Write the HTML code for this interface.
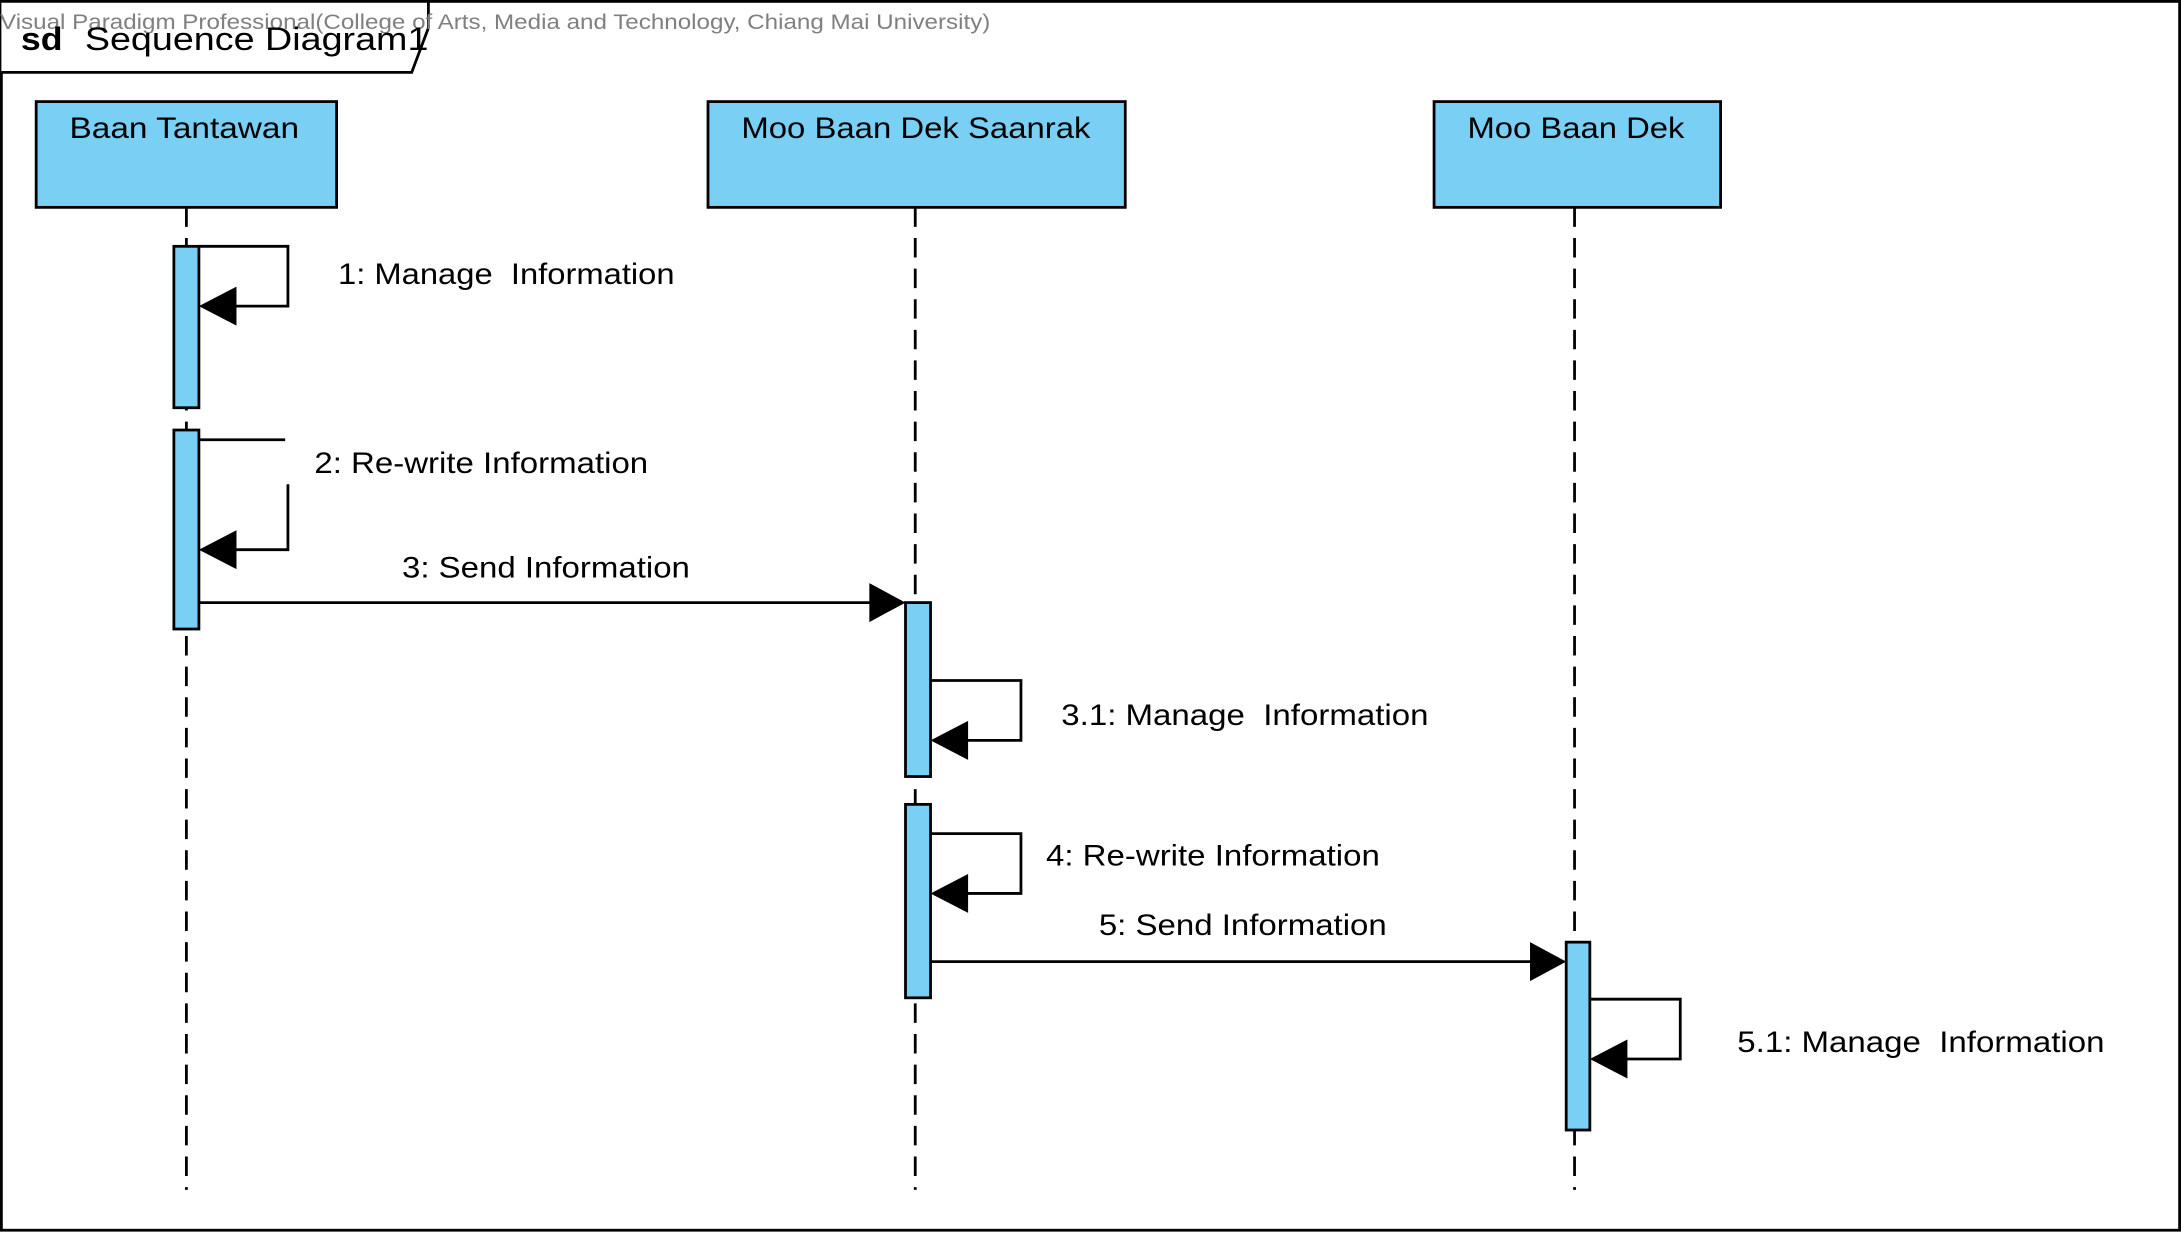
<!DOCTYPE html>
<html><head><meta charset="utf-8"><style>
html,body{margin:0;padding:0;background:#fff;}
svg{display:block;}
text{font-family:"Liberation Sans",Arial,sans-serif;}
</style></head><body>
<svg width="2181" height="1233" viewBox="0 0 1568 886" preserveAspectRatio="none" xmlns="http://www.w3.org/2000/svg">
<rect x="1" y="1" width="1566" height="883" fill="#fff" stroke="#000" stroke-width="2"/>
<path d="M1,1 H308 V20 L296,52 H1" fill="#fff" stroke="#000" stroke-width="2"/>
<text x="0" y="21" font-size="15" fill="#808080" textLength="712" lengthAdjust="spacingAndGlyphs">Visual Paradigm Professional(College of Arts, Media and Technology, Chiang Mai University)</text>
<text x="15" y="36" font-size="23" font-weight="bold" textLength="30" lengthAdjust="spacingAndGlyphs">sd</text>
<text x="61" y="36" font-size="23" textLength="247" lengthAdjust="spacingAndGlyphs">Sequence Diagram1</text>

<g stroke="#000" stroke-width="2" stroke-dasharray="14,8" fill="none">
<line x1="134" y1="149" x2="134" y2="855"/>
<line x1="658" y1="149" x2="658" y2="855"/>
<line x1="1132" y1="149" x2="1132" y2="855"/>
</g>

<g fill="#7acff4" stroke="#000" stroke-width="2">
<rect x="26" y="73" width="216" height="76"/>
<rect x="509" y="73" width="300" height="76"/>
<rect x="1031" y="73" width="206" height="76"/>
<rect x="125" y="177" width="18" height="116"/>
<rect x="125" y="309" width="18" height="143"/>
<rect x="651" y="433" width="18" height="125"/>
<rect x="651" y="578" width="18" height="139"/>
<rect x="1126" y="677" width="17" height="135"/>
</g>
<g font-size="21">
<text x="50" y="99" textLength="165" lengthAdjust="spacingAndGlyphs">Baan Tantawan</text>
<text x="533" y="99" textLength="251" lengthAdjust="spacingAndGlyphs">Moo Baan Dek Saanrak</text>
<text x="1055" y="99" textLength="156" lengthAdjust="spacingAndGlyphs">Moo Baan Dek</text>
</g>

<g stroke="#000" stroke-width="2" fill="none">
<polyline points="143,177 207,177 207,220 160,220"/>
<polyline points="143,316 205,316"/>
<polyline points="207,348 207,395 160,395"/>
<line x1="143" y1="433" x2="630" y2="433"/>
<polyline points="669,489 734,489 734,532 686,532"/>
<polyline points="669,599 734,599 734,642 686,642"/>
<line x1="669" y1="691" x2="1105" y2="691"/>
<polyline points="1143,718 1208,718 1208,761 1160,761"/>
</g>
<g fill="#000">
<polygon points="143,220 170,206 170,234"/>
<polygon points="143,395 170,381 170,409"/>
<polygon points="651,433 625,419 625,447"/>
<polygon points="669,532 696,518 696,546"/>
<polygon points="669,642 696,628 696,656"/>
<polygon points="1126,691 1100,677 1100,705"/>
<polygon points="1143,761 1170,747 1170,775"/>
</g>
<g font-size="21">
<text x="243" y="204" xml:space="preserve" textLength="242" lengthAdjust="spacingAndGlyphs">1: Manage  Information</text>
<text x="226" y="340" textLength="240" lengthAdjust="spacingAndGlyphs">2: Re-write Information</text>
<text x="289" y="415" textLength="207" lengthAdjust="spacingAndGlyphs">3: Send Information</text>
<text x="763" y="521" xml:space="preserve" textLength="264" lengthAdjust="spacingAndGlyphs">3.1: Manage  Information</text>
<text x="752" y="622" textLength="240" lengthAdjust="spacingAndGlyphs">4: Re-write Information</text>
<text x="790" y="672" textLength="207" lengthAdjust="spacingAndGlyphs">5: Send Information</text>
<text x="1249" y="756" xml:space="preserve" textLength="264" lengthAdjust="spacingAndGlyphs">5.1: Manage  Information</text>
</g>
</svg>
</body></html>
